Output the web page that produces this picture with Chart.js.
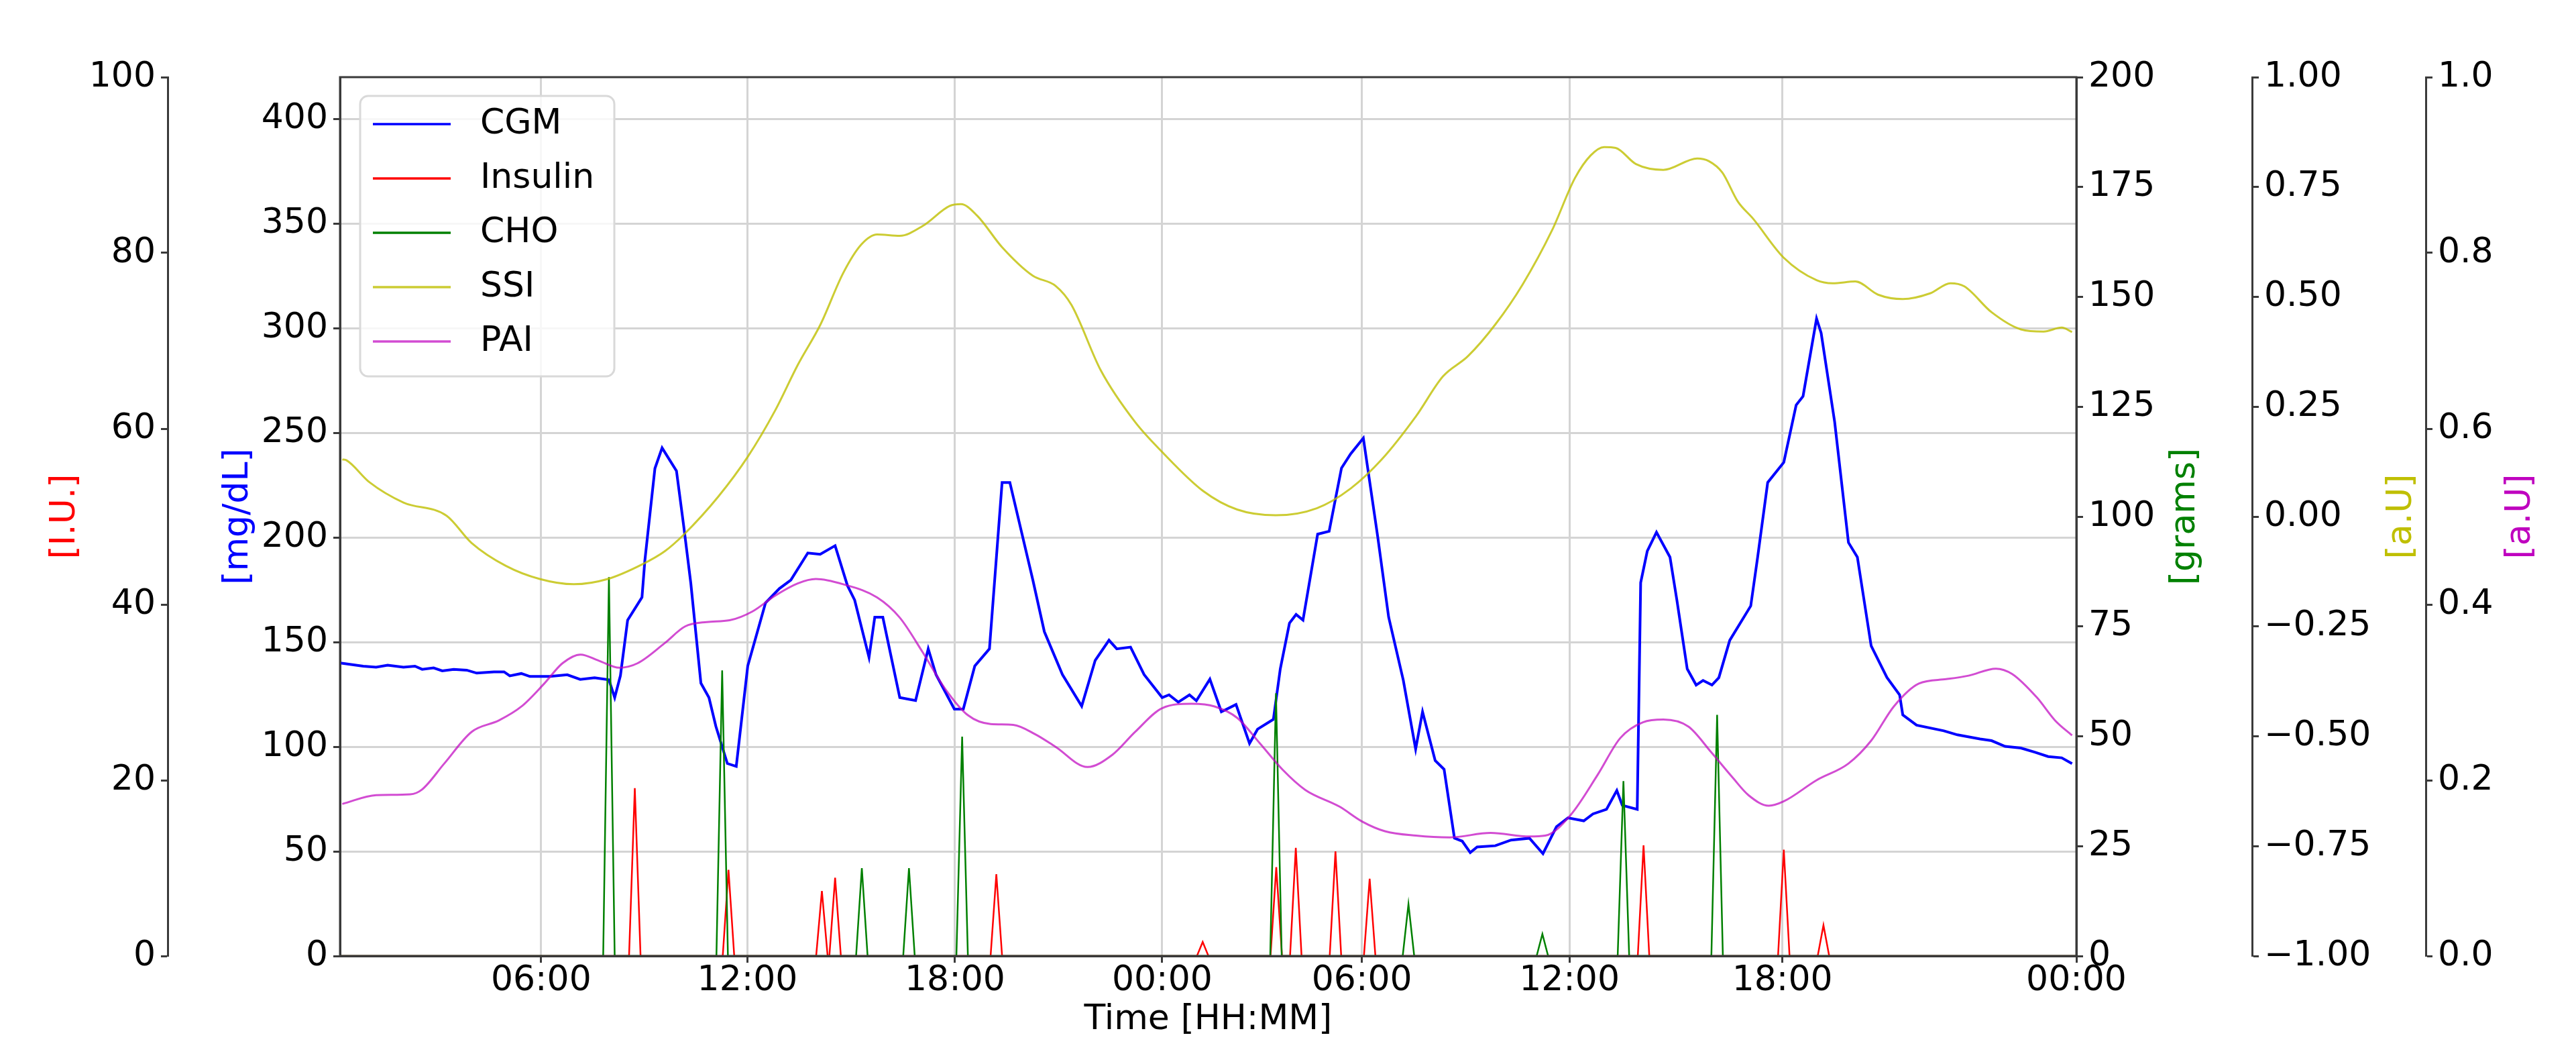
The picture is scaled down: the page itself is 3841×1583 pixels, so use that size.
<!DOCTYPE html>
<html>
<head>
<meta charset="utf-8">
<script src="https://cdn.jsdelivr.net/npm/chart.js@4.4.0/dist/chart.umd.min.js"></script>
<style>
  html, body { margin: 0; padding: 0; background: #fff; }
</style>
</head>
<body>
<canvas id="glucoseChart" width="3841" height="1583"></canvas>
<script>
// x is the sample index (5 min steps)
var xMin = 0.93, xMax = 605.1;
var xTickIdx = [70.9, 142.7, 214.9, 287.0, 356.5, 428.7, 502.8, 605.1];
var xTickLabels = ['06:00', '12:00', '18:00', '00:00', '06:00', '12:00', '18:00', '00:00'];

var cgmIdx = [1, 9, 13.5, 17.5, 23, 27, 29.5, 33.5, 36.5, 40.5,
  45, 48.5, 54.5, 58, 60, 64, 67, 74, 80, 84.5,
  89.5, 94.5, 96.5, 98.5, 101, 106, 107, 110.5, 113, 118,
  120.5, 123, 126.5, 129.3, 131.7, 135.7, 138.8, 142.8, 149, 153.8,
  157.8, 163.7, 168, 173.2, 177.5, 180, 185, 187, 189.8, 195.7,
  201.2, 205.6, 208.3, 214.7, 217.8, 221.8, 226.9, 231.3, 234, 242,
  246, 252.3, 259, 263.7, 268.5, 271.2, 276, 280.7, 287, 289.4,
  292.6, 296.5, 298.9, 303.6, 307.6, 312.7, 317.4, 320.2, 325.7, 328.1,
  331.3, 333.6, 336, 341.1, 345.1, 349.4, 352.6, 357, 362, 365.8,
  370.9, 375.2, 377.6, 382, 385.1, 388.7, 391.4, 394.2, 396.6, 402.9,
  408.4, 414.8, 419.5, 424.2, 428.2, 433.7, 436.9, 441.6, 445.2, 447.1,
  452.3, 453.5, 455.8, 459, 463.7, 466.1, 469.7, 472.8, 475.2, 478.3,
  480.7, 484.5, 491.8, 494.2, 497.7, 503.3, 507.6, 510, 514.7, 516.3,
  521, 525.8, 528.9, 533.7, 539.2, 543.6, 544.7, 549.5, 559, 563.7,
  571.6, 575.6, 580.3, 585.8, 590.6, 595.3, 600, 603.6];
var cgmVal = [140, 138.5, 138, 139, 138, 138.5, 137, 137.7, 136.3, 137,
  136.6, 135.2, 135.8, 135.8, 133.9, 135, 133.6, 133.6, 134.4, 132.2,
  133, 132, 123.5, 134, 160.5, 171.4, 189, 233, 242.8, 231.8,
  205.7, 178, 130.4, 123.5, 109.8, 92, 90.6, 138.6, 168.8, 175.6,
  179.7, 192.6, 192, 196.1, 177, 170.1, 142.7, 161.9, 161.9, 123.5,
  122.1, 146.8, 134.5, 118, 118, 138.6, 146.8, 226.3, 226.3, 179.7,
  155, 134.5, 119.4, 141.3, 150.9, 146.8, 147.6, 134.5, 123.5, 124.8,
  121.3, 124.8, 122, 132.3, 116.7, 120.2, 101.6, 108.4, 113.1, 137.2,
  159.1, 163.2, 160.5, 201.6, 203, 233.2, 240, 247.5, 200.4, 162,
  131.8, 98.9, 116.7, 93.4, 89.2, 56.3, 54.9, 49.4, 52.1, 52.7,
  55.4, 56.3, 48.9, 61.8, 66, 64.6, 67.9, 70.1, 79.1, 72,
  70.1, 178.4, 193.5, 202.5, 190.6, 170.1, 137.2, 129.5, 131.7, 129.5,
  133, 150.9, 167.3, 190.6, 226.3, 235.9, 263.3, 267.5, 304.6, 297.7,
  255.2, 197.6, 190.6, 148.2, 133.1, 124.8, 115.2, 110.3, 107.6, 105.7,
  103.7, 102.9, 100.2, 99.4, 97.4, 95.3, 94.7, 91.9];

var insulinIdx = [103.5, 136.1, 168.6, 173.2, 229.3, 301.1, 326.7, 333.5, 347.3, 359.2, 454.5, 503.3, 517.1];
var insulinDose = [19.1, 9.8, 7.4, 8.9, 9.3, 1.6, 10.1, 12.3, 11.9, 8.8, 12.6, 12.1, 3.5];

var choIdx = [94.5, 133.9, 182.5, 198.9, 217.4, 326.6, 372.7, 419.3, 447.5, 480.1];
var choGrams = [86.2, 65, 20, 20, 49.9, 59.8, 11.8, 5, 39.8, 54.9];

var ssiIdx = [1.7, 3.2, 11.2, 23, 38, 46.7, 58.6, 70.4, 82.3, 94.1,
  106, 113.9, 120.7, 132.5, 142.8, 152.3, 160.2, 168.1, 176, 182.3,
  187.8, 195.7, 203.6, 213.1, 217, 222.6, 231.3, 242, 249.9, 255.4,
  265.7, 277.6, 287, 301.3, 313.1, 326.5, 340.8, 352.6, 363.4, 375.3,
  384.7, 393.4, 402.9, 412.4, 422.7, 430.6, 436.1, 440.8, 444.8, 451.9,
  461.4, 473.2, 477.2, 481.9, 487.3, 492.6, 503.3, 514.7, 520.3, 528.2,
  536.1, 544.7, 554.2, 561.3, 566.1, 575.6, 585.8, 593.7, 600, 603.6];
var ssiVal = [0.130, 0.128, 0.078, 0.032, 0.002, -0.060, -0.112, -0.142, -0.154, -0.142,
  -0.109, -0.079, -0.040, 0.045, 0.136, 0.241, 0.345, 0.437, 0.554, 0.619,
  0.642, 0.639, 0.661, 0.707, 0.711, 0.685, 0.613, 0.548, 0.525, 0.482,
  0.332, 0.215, 0.147, 0.058, 0.016, 0.003, 0.019, 0.064, 0.130, 0.228,
  0.319, 0.365, 0.437, 0.528, 0.652, 0.770, 0.822, 0.841, 0.839, 0.802,
  0.789, 0.815, 0.809, 0.783, 0.717, 0.678, 0.589, 0.538, 0.531, 0.535,
  0.505, 0.495, 0.508, 0.531, 0.524, 0.465, 0.426, 0.421, 0.430, 0.420];

var paiIdx = [1.7, 13.5, 25.4, 29.3, 37.2, 46.7, 56.2, 64.1, 72, 78.3,
  84.6, 91, 98.1, 104.4, 113.9, 121, 128.5, 136.5, 144.4, 152.3,
  160.2, 166.5, 176, 187.8, 195.7, 203.6, 211.5, 219.4, 227.3, 235.2,
  243, 249.9, 261, 269.7, 277.6, 287, 297.3, 305.2, 313.1, 321,
  328.9, 336.8, 348.7, 356.6, 364.5, 375.3, 387.1, 401.3, 414.8, 420.3,
  429, 438.5, 446.4, 454.3, 461.4, 470.1, 478, 485.5, 491, 498.1,
  503.3, 514.7, 525.8, 533.7, 541.6, 550.3, 559.8, 567.6, 577.1, 582.7,
  591.4, 597.7, 603.6];
var paiVal = [0.173, 0.183, 0.184, 0.189, 0.219, 0.255, 0.268, 0.284, 0.310, 0.333,
  0.343, 0.336, 0.328, 0.333, 0.356, 0.375, 0.380, 0.382, 0.392, 0.410,
  0.424, 0.429, 0.423, 0.408, 0.385, 0.346, 0.304, 0.274, 0.264, 0.263,
  0.252, 0.238, 0.215, 0.229, 0.255, 0.282, 0.287, 0.284, 0.271, 0.242,
  0.212, 0.189, 0.170, 0.153, 0.142, 0.137, 0.135, 0.140, 0.136, 0.137,
  0.160, 0.206, 0.248, 0.266, 0.269, 0.261, 0.232, 0.203, 0.183, 0.171,
  0.176, 0.200, 0.219, 0.245, 0.284, 0.310, 0.315, 0.319, 0.327, 0.321,
  0.294, 0.268, 0.251];

var mgTicks = [0, 50, 100, 150, 200, 250, 300, 350, 400];
var iuTicks = [0, 20, 40, 60, 80, 100];
var gramTicks = [0, 25, 50, 75, 100, 125, 150, 175, 200];
var ssiTicks = [-1, -0.75, -0.5, -0.25, 0, 0.25, 0.5, 0.75, 1];
var paiTicks = [0, 0.2, 0.4, 0.6, 0.8, 1.0];

function pairs(xs, ys) {
  return xs.map(function (x, i) { return { x: x, y: ys[i] }; });
}
// each event is a narrow triangle on a zero baseline
function spikes(xs, ys) {
  var pts = [{ x: xMin, y: 0 }];
  xs.forEach(function (x, i) {
    pts.push({ x: x - 2, y: 0 }, { x: x, y: ys[i] }, { x: x + 2, y: 0 });
  });
  pts.push({ x: xMax, y: 0 });
  return pts;
}
function setTicks(list) {
  return function (scale) { scale.ticks = list.map(function (v) { return { value: v }; }); };
}
function setWidth(w) { return function (scale) { scale.width = w; }; }

Chart.defaults.font.family = "'DejaVu Sans', sans-serif";
Chart.defaults.color = '#000';

var axisColor = '#3a3a3a';
var gridColor = '#d4d4d4';
var tickFont = { size: 52, lineHeight: 1 };
var titleFont = { size: 52, lineHeight: 1.2 };

// right side titles read bottom to top, like the left ones
var rightTitles = [
  { id: 'yG', text: '[grams]', color: '#008000', offset: 100 },
  { id: 'ySSI', text: '[a.U]', color: '#bfbf00', offset: 36 },
  { id: 'yPAI', text: '[a.U]', color: '#bf00bf', offset: 31 }
];

var framePlugin = {
  id: 'frame',
  afterDatasetsDraw: function (chart) {
    var a = chart.chartArea, ctx = chart.ctx;
    ctx.save();
    ctx.strokeStyle = axisColor;
    ctx.lineWidth = 3;
    ctx.strokeRect(a.left, a.top, a.right - a.left, a.bottom - a.top);
    ctx.restore();
  },
  afterDraw: function (chart) {
    var ctx = chart.ctx;
    ctx.save();
    ctx.font = '52px "DejaVu Sans"';
    ctx.textAlign = 'center';
    ctx.textBaseline = 'middle';
    rightTitles.forEach(function (t) {
      var s = chart.scales[t.id];
      ctx.save();
      ctx.translate(s.right - t.offset, (s.top + s.bottom) / 2);
      ctx.rotate(-Math.PI / 2);
      ctx.fillStyle = t.color;
      ctx.fillText(t.text, 0, 0);
      ctx.restore();
    });
    // legend box inside the plot, upper left
    var bx = 537, by = 143, bw = 379, bh = 418;
    ctx.beginPath();
    ctx.roundRect(bx, by, bw, bh, 12);
    ctx.fillStyle = 'rgba(255,255,255,0.8)';
    ctx.fill();
    ctx.strokeStyle = '#d9d9d9';
    ctx.lineWidth = 3;
    ctx.stroke();
    ctx.textAlign = 'left';
    chart.data.datasets.forEach(function (ds, i) {
      var y = 185 + i * 81;
      ctx.beginPath();
      ctx.moveTo(556, y);
      ctx.lineTo(672, y);
      ctx.strokeStyle = ds.borderColor;
      ctx.lineWidth = 3.5;
      ctx.stroke();
      ctx.fillStyle = '#000';
      ctx.fillText(ds.label, 716, y);
    });
    ctx.restore();
  }
};

function sideAxis(pos, weight, min, max, ticks, width, cb, extra) {
  var o = {
    type: 'linear', position: pos, weight: weight, min: min, max: max,
    afterBuildTicks: setTicks(ticks),
    afterFit: setWidth(width),
    ticks: { font: tickFont, padding: 8, color: '#000', callback: cb },
    grid: { drawOnChartArea: false, tickLength: 10, tickColor: axisColor, tickWidth: 3 },
    border: { color: axisColor, width: 3 }
  };
  return Object.assign(o, extra || {});
}

new Chart(document.getElementById('glucoseChart'), {
  type: 'line',
  data: {
    datasets: [
      { label: 'CGM', data: pairs(cgmIdx, cgmVal), yAxisID: 'yMg', borderColor: '#0000ff', borderWidth: 4, order: 5 },
      { label: 'Insulin', data: spikes(insulinIdx, insulinDose), yAxisID: 'yIU', borderColor: '#ff0000', borderWidth: 2.5, order: 4 },
      { label: 'CHO', data: spikes(choIdx, choGrams), yAxisID: 'yG', borderColor: '#008000', borderWidth: 2.5, order: 3 },
      { label: 'SSI', data: pairs(ssiIdx, ssiVal), yAxisID: 'ySSI', borderColor: 'rgba(191,191,0,0.8)', borderWidth: 3, cubicInterpolationMode: 'monotone', order: 2 },
      { label: 'PAI', data: pairs(paiIdx, paiVal), yAxisID: 'yPAI', borderColor: 'rgba(191,0,191,0.7)', borderWidth: 3, cubicInterpolationMode: 'monotone', order: 1 }
    ]
  },
  options: {
    responsive: false,
    animation: false,
    devicePixelRatio: 1,
    elements: { point: { radius: 0 }, line: { tension: 0 } },
    layout: { padding: { left: 66, right: 52, top: 115, bottom: 0 } },
    plugins: { legend: { display: false }, tooltip: { enabled: false } },
    scales: {
      x: {
        type: 'linear', position: 'bottom', min: xMin, max: xMax,
        afterBuildTicks: setTicks(xTickIdx),
        afterFit: function (s) { s.height = 158; },
        ticks: { autoSkip: false, maxRotation: 0, font: tickFont, padding: 1, color: '#000',
          callback: function (v, i) { return xTickLabels[i]; } },
        grid: { color: gridColor, lineWidth: 3, tickLength: 10, tickColor: axisColor, tickWidth: 3 },
        border: { color: axisColor, width: 3 },
        title: { display: true, text: 'Time [HH:MM]', color: '#000', font: titleFont, padding: { top: 0, bottom: 31 } }
      },
      yMg: sideAxis('left', 1, 0, 420, mgTicks, 257, function (v) { return String(v); }, {
        grid: { drawOnChartArea: true, color: gridColor, lineWidth: 3, tickLength: 10, tickColor: axisColor, tickWidth: 3 },
        title: { display: true, text: '[mg/dL]', color: '#0000ff', font: titleFont, padding: { top: 74, bottom: 0 } }
      }),
      yIU: sideAxis('left', 2, 0, 100, iuTicks, 184, function (v) { return String(v); }, {
        title: { display: true, text: '[I.U.]', color: '#ff0000', font: titleFont, padding: { top: 0, bottom: 0 } }
      }),
      yG: sideAxis('right', 1, 0, 200, gramTicks, 262, function (v) { return String(v); }),
      ySSI: sideAxis('right', 2, -1, 1, ssiTicks, 259, function (v) {
        return (v < 0 ? '\u2212' : '') + Math.abs(v).toFixed(2);
      }),
      yPAI: sideAxis('right', 3, 0, 1, paiTicks, 172, function (v) { return v.toFixed(1); })
    }
  },
  plugins: [framePlugin]
});
</script>
</body>
</html>
